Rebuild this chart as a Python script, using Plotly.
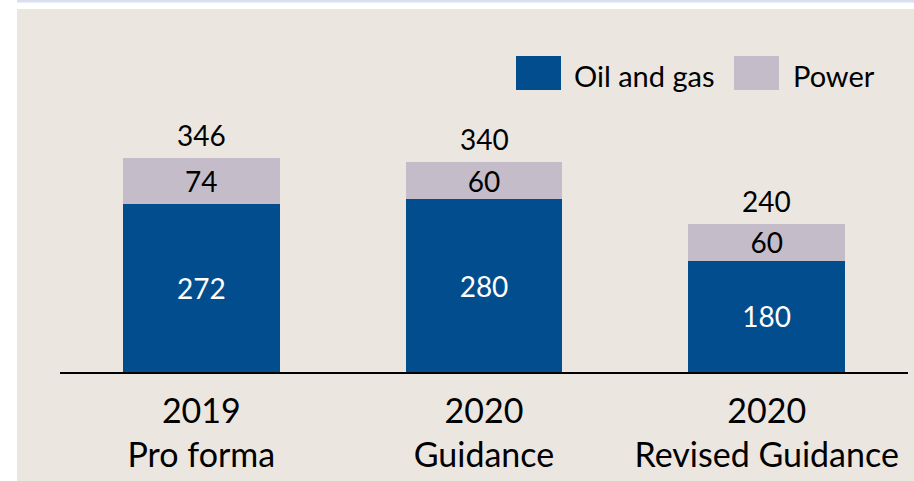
import plotly.graph_objects as go

categories = ["2019<br>Pro forma", "2020<br>Guidance", "2020<br>Revised Guidance"]
oil_gas = [272, 280, 180]
power = [74, 60, 60]
totals = [346, 340, 240]
series_names = ["Oil and gas", "Power"]

BLUE = "#024D8D"
LILAC = "#C4BCC8"
BEIGE = "#EBE6E0"
FONT = "Lato"

fig = go.Figure()
fig.add_trace(go.Bar(
    x=categories, y=oil_gas, name=series_names[0], marker_color=BLUE,
    marker_line_width=0, text=[str(v) for v in oil_gas], textposition="inside",
    insidetextanchor="middle", textangle=0,
    textfont=dict(family=FONT, size=28, color="white"), showlegend=False,
))
fig.add_trace(go.Bar(
    x=categories, y=power, name=series_names[1], marker_color=LILAC,
    marker_line_width=0, text=[str(v) for v in power], textposition="inside",
    insidetextanchor="middle", textangle=0,
    textfont=dict(family=FONT, size=28, color="black"), showlegend=False,
))

for c, t in zip(categories, totals):
    fig.add_annotation(x=c, y=t, text=str(t), showarrow=False, yanchor="bottom",
                       yshift=4, font=dict(family=FONT, size=28, color="black"))

W, H = 914, 481
ml, mr, mt, mb = 60, 6, 62, 109
pw, ph = W - ml - mr, H - mt - mb

def px_x(p):
    return (p - ml) / pw

def px_y(p):
    return (H - mb - p) / ph

# background panel and top band
fig.add_shape(type="rect", xref="paper", yref="paper", layer="below",
              x0=px_x(17), x1=px_x(914), y0=px_y(481), y1=px_y(9),
              fillcolor=BEIGE, line_width=0)
fig.add_shape(type="rect", xref="paper", yref="paper", layer="below",
              x0=px_x(17), x1=px_x(914), y0=px_y(2.5), y1=px_y(0),
              fillcolor="#D9DEF0", line_width=0)

# legend drawn manually
legend_items = [(series_names[0], BLUE, 516, 572), (series_names[1], LILAC, 734, 791)]
for name, col, sx, tx in legend_items:
    fig.add_shape(type="rect", xref="paper", yref="paper",
                  x0=px_x(sx), x1=px_x(sx + 45), y0=px_y(90), y1=px_y(56),
                  fillcolor=col, line_width=0)
    fig.add_annotation(xref="paper", yref="paper", x=px_x(tx), y=px_y(75),
                       xanchor="left", yanchor="middle", text=name, showarrow=False,
                       font=dict(family=FONT, size=29, color="black"))

fig.update_layout(
    barmode="stack", bargap=0.445,
    width=W, height=H,
    margin=dict(l=ml, r=mr, t=mt, b=mb, pad=0),
    paper_bgcolor="white", plot_bgcolor="rgba(0,0,0,0)",
    font=dict(family=FONT, color="black"),
    uniformtext=dict(minsize=28, mode="show"),
    showlegend=False,
)
fig.update_xaxes(showline=True, linecolor="black", linewidth=2, ticks="",
                 tickfont=dict(family=FONT, size=34, color="black"),
                 ticklabelstandoff=8,
                 range=[-0.5, 2.5], fixedrange=True)
fig.update_yaxes(visible=False, range=[0, ph / 0.6175], showgrid=False, zeroline=False)

fig.write_html("out.html")
